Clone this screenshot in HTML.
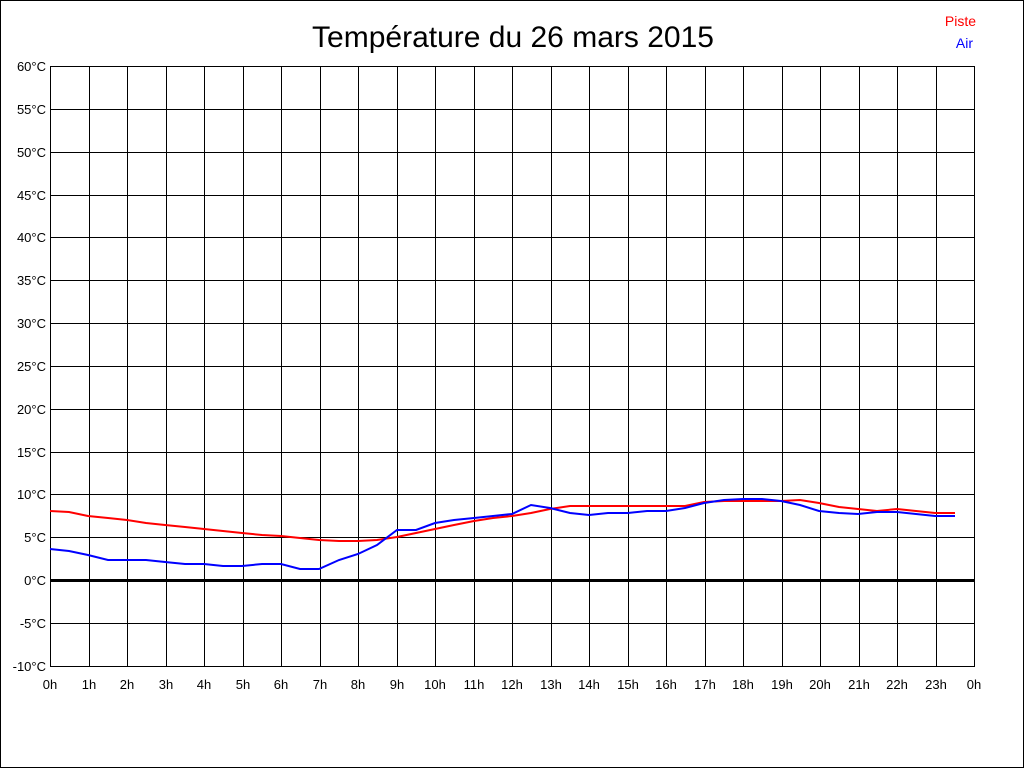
<!DOCTYPE html>
<html><head><meta charset="utf-8"><style>
html,body{margin:0;padding:0;background:#fff}
svg{display:block}
text{font-family:"Liberation Sans",Arial,sans-serif}
</style></head><body>
<svg width="1024" height="768" xmlns="http://www.w3.org/2000/svg">
<rect x="0.5" y="0.5" width="1023" height="767" fill="#fff" stroke="#000"/>
<text x="513" y="47" font-size="30" text-anchor="middle">Température du 26 mars 2015</text>
<text x="976" y="26" font-size="14" fill="#f00" text-anchor="end">Piste</text>
<text x="973" y="48" font-size="14" fill="#00f" text-anchor="end">Air</text>
<g stroke="#000" stroke-width="1" shape-rendering="crispEdges">
<rect x="50.5" y="66.5" width="924" height="600" fill="none"/>
<path d="M89.5 66V666M127.5 66V666M166.5 66V666M204.5 66V666M243.5 66V666M281.5 66V666M320.5 66V666M358.5 66V666M397.5 66V666M435.5 66V666M474.5 66V666M512.5 66V666M551.5 66V666M589.5 66V666M628.5 66V666M666.5 66V666M705.5 66V666M743.5 66V666M782.5 66V666M820.5 66V666M859.5 66V666M897.5 66V666M936.5 66V666"/>
<path d="M50 109.5H974M50 152.5H974M50 195.5H974M50 237.5H974M50 280.5H974M50 323.5H974M50 366.5H974M50 409.5H974M50 452.5H974M50 494.5H974M50 537.5H974M50 623.5H974"/>
</g>
<rect x="50" y="579" width="925" height="3" fill="#000"/>
<g font-size="13" text-anchor="end">
<text x="46" y="71">60°C</text><text x="46" y="114">55°C</text><text x="46" y="157">50°C</text>
<text x="46" y="200">45°C</text><text x="46" y="242">40°C</text><text x="46" y="285">35°C</text>
<text x="46" y="328">30°C</text><text x="46" y="371">25°C</text><text x="46" y="414">20°C</text>
<text x="46" y="457">15°C</text><text x="46" y="499">10°C</text><text x="46" y="542">5°C</text>
<text x="46" y="585">0°C</text><text x="46" y="628">-5°C</text><text x="46" y="671">-10°C</text>
</g>
<g font-size="13" text-anchor="middle">
<text x="50" y="689">0h</text><text x="89" y="689">1h</text><text x="127" y="689">2h</text><text x="166" y="689">3h</text>
<text x="204" y="689">4h</text><text x="243" y="689">5h</text><text x="281" y="689">6h</text><text x="320" y="689">7h</text>
<text x="358" y="689">8h</text><text x="397" y="689">9h</text><text x="435" y="689">10h</text><text x="474" y="689">11h</text>
<text x="512" y="689">12h</text><text x="551" y="689">13h</text><text x="589" y="689">14h</text><text x="628" y="689">15h</text>
<text x="666" y="689">16h</text><text x="705" y="689">17h</text><text x="743" y="689">18h</text><text x="782" y="689">19h</text>
<text x="820" y="689">20h</text><text x="859" y="689">21h</text><text x="897" y="689">22h</text><text x="936" y="689">23h</text>
<text x="974" y="689">0h</text>
</g>
<polyline fill="none" stroke="#f00" stroke-width="2" points="50,511 69,512 88,516 108,518 127,520 146,523 165,525 185,527 204,529 223,531 242,533 262,535 281,536 300,538 319,540 339,541 358,541 377,540 397,537 416,533 435,529 454,525 474,521 493,518 512,516 531,513 550,509 570,506 589,506 608,506 628,506 647,506 666,506 685,506 704,502 724,501 743,501 762,501 781,501 800,500 819,503 839,507 858,509 877,511 897,509 916,511 935,513 955,513"/>
<polyline fill="none" stroke="#00f" stroke-width="2" points="50,549 69,551 88,555 108,560 127,560 146,560 165,562 185,564 204,564 223,566 242,566 262,564 281,564 300,569 319,569 339,560 358,554 377,545 397,530 416,530 435,523 454,520 474,518 493,516 512,514 531,505 550,508 570,513 589,515 608,513 628,513 647,511 666,511 685,508 704,503 724,500 743,499 762,499 781,501 800,505 819,511 839,513 858,514 877,512 897,512 916,514 935,516 955,516"/>
</svg>
</body></html>
